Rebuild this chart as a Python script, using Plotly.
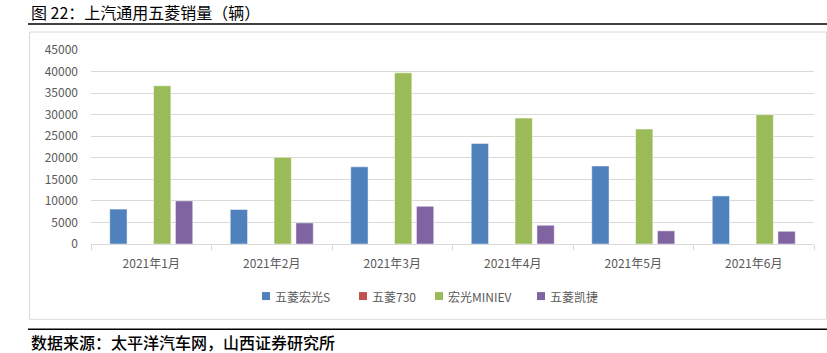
import plotly.graph_objects as go

months = ["2021年1月", "2021年2月", "2021年3月", "2021年4月", "2021年5月", "2021年6月"]
hongguang_s = [8100, 8000, 17900, 23300, 18100, 11150]
wuling_730 = [0, 0, 0, 0, 0, 0]
mini_ev = [36700, 20100, 39700, 29200, 26650, 30000]
kaijie = [10000, 4900, 8750, 4350, 3050, 2950]
y_ticks = [0, 5000, 10000, 15000, 20000, 25000, 30000, 35000, 40000, 45000]

W, H = 827, 353
L, R, T, B = 91, 814, 50, 244.5

def px(x):
    return (x - L) / (R - L)

def py(y):
    return (B - y) / (B - T)

FONT = "Noto Sans CJK SC"
series = [
    ("五菱宏光S", hongguang_s, "#4F81BD"),
    ("五菱730", wuling_730, "#C0504D"),
    ("宏光MINIEV", mini_ev, "#9BBB59"),
    ("五菱凯捷", kaijie, "#8064A2"),
]
legend_x = [262, 359, 435, 537]

fig = go.Figure()
for name, vals, color in series:
    fig.add_trace(go.Bar(
        x=months, y=vals, name=name,
        marker=dict(color=color, line=dict(color="rgba(255,255,255,0.6)", width=0.8)),
    ))

shapes = [
    dict(type="rect", xref="paper", yref="paper", x0=px(29.5), x1=px(826.5),
         y0=py(320), y1=py(32), line=dict(color="#D9D9D9", width=1), layer="below"),
    dict(type="line", xref="paper", yref="paper", x0=px(28), x1=px(827),
         y0=py(24), y1=py(24), line=dict(color="black", width=1.5)),
    dict(type="line", xref="paper", yref="paper", x0=px(28), x1=px(827),
         y0=py(330), y1=py(330), line=dict(color="black", width=1.5)),
]
annotations = [
    dict(text="图 22：上汽通用五菱销量（辆）", xref="paper", yref="paper",
         x=px(29), y=py(12), xanchor="left", yanchor="middle", showarrow=False,
         font=dict(family=FONT, size=16, color="black")),
    dict(text="数据来源：太平洋汽车网，山西证券研究所", xref="paper", yref="paper",
         x=px(29), y=py(343), xanchor="left", yanchor="middle", showarrow=False,
         font=dict(family=FONT, size=16, color="black", weight=500)),
]
ly = 296.7
for (name, vals, color), lx in zip(series, legend_x):
    shapes.append(dict(type="rect", xref="paper", yref="paper",
                       x0=px(lx), x1=px(lx + 8), y0=py(ly + 4), y1=py(ly - 4),
                       fillcolor=color, line=dict(width=0)))
    annotations.append(dict(text=name, xref="paper", yref="paper",
                            x=px(lx + 11), y=py(ly), xanchor="left", yanchor="middle",
                            showarrow=False,
                            font=dict(family=FONT, size=12, color="#595959")))

fig.update_layout(
    width=W, height=H,
    margin=dict(l=L, r=W - R, t=T, b=H - B),
    paper_bgcolor="white", plot_bgcolor="white",
    barmode="group", bargap=0.273, bargroupgap=0.21,
    font=dict(family=FONT, size=12, color="#595959"),
    showlegend=False,
    xaxis=dict(type="category", tickson="boundaries", ticks="outside", ticklen=5,
               tickcolor="#D9D9D9", showline=True, linecolor="#D9D9D9", linewidth=1,
               showgrid=False, ticklabelstandoff=9,
               tickfont=dict(size=12, color="#595959"), fixedrange=True),
    yaxis=dict(range=[0, 45000], tickvals=y_ticks, ticktext=[str(v) for v in y_ticks],
               showgrid=True, gridcolor="#D9D9D9", gridwidth=1, zeroline=False,
               showline=False, ticks="", ticklabelstandoff=12,
               tickfont=dict(size=12, color="#595959"), fixedrange=True),
    shapes=shapes,
    annotations=annotations,
)

fig.write_html("out.html", config={"displayModeBar": False})
